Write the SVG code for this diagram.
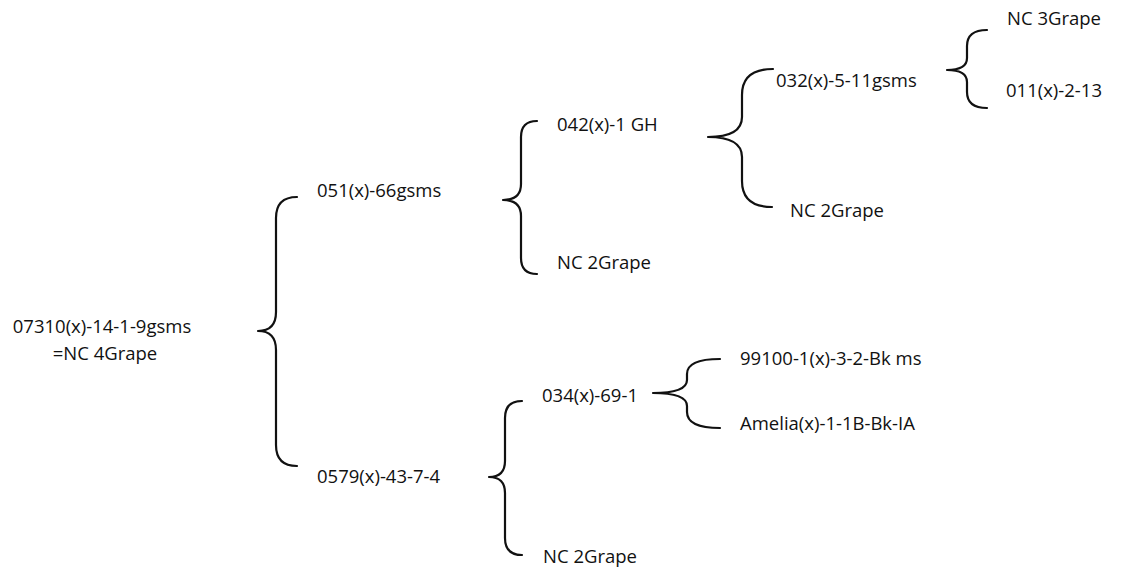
<svg xmlns="http://www.w3.org/2000/svg" width="1121" height="573" viewBox="0 0 1121 573">
<style>
text{font-family:"Open Sans","Noto Sans","Liberation Sans",sans-serif;font-size:18.5px;fill:#111;}
.brace{fill:none;stroke:#111;stroke-width:2.2;stroke-linecap:round;stroke-linejoin:round;}
</style>
<rect width="1121" height="573" fill="#fff"/>
<g id="connectors">
<path class="brace" d="M297,197 Q276,197 276,218 L276,312 Q276,331 258,331 Q276,331 276,350 L276,445 Q276,466 297,466"/>
<path class="brace" d="M537,121 Q521,121 521,137 L521,184 Q521,200 503,200 Q521,200 521,216 L521,258 Q521,274 537,274"/>
<path class="brace" d="M773,69 Q742,69 742,95 L742,117 Q742,137 708,137 Q742,137 742,157 L742,181 Q742,207 772,207"/>
<path class="brace" d="M987,30 Q967,30 967,46 L967,58 Q967,70 947,70 Q967,70 967,82 L967,92 Q967,108 987,108"/>
<path class="brace" d="M522,401 Q505,401 505,418 L505,461 Q505,477 489,477 Q505,477 505,493 L505,538 Q505,555 522,555"/>
<path class="brace" d="M720,359 Q687,359 687,374 L687,380 Q687,393 653,393 Q687,393 687,406 L687,412 Q687,428 720,428"/>
</g>
<g id="n-root"><text x="102" y="333" text-anchor="middle">07310(x)-14-1-9gsms</text><text x="105" y="360" text-anchor="middle">=NC 4Grape</text></g>
<g id="n-051"><text x="317" y="197">051(x)-66gsms</text></g>
<g id="n-0579"><text x="317" y="483">0579(x)-43-7-4</text></g>
<g id="n-042"><text x="557" y="131">042(x)-1 GH</text></g>
<g id="n-nc2a"><text x="557" y="269">NC 2Grape</text></g>
<g id="n-034"><text x="542" y="402">034(x)-69-1</text></g>
<g id="n-nc2b"><text x="543" y="563">NC 2Grape</text></g>
<g id="n-032"><text x="776" y="87">032(x)-5-11gsms</text></g>
<g id="n-nc2c"><text x="790" y="217">NC 2Grape</text></g>
<g id="n-nc3"><text x="1007" y="25">NC 3Grape</text></g>
<g id="n-011"><text x="1006" y="97">011(x)-2-13</text></g>
<g id="n-99100"><text x="740" y="365">99100-1(x)-3-2-Bk ms</text></g>
<g id="n-amelia"><text x="740" y="430">Amelia(x)-1-1B-Bk-IA</text></g>
</svg>
